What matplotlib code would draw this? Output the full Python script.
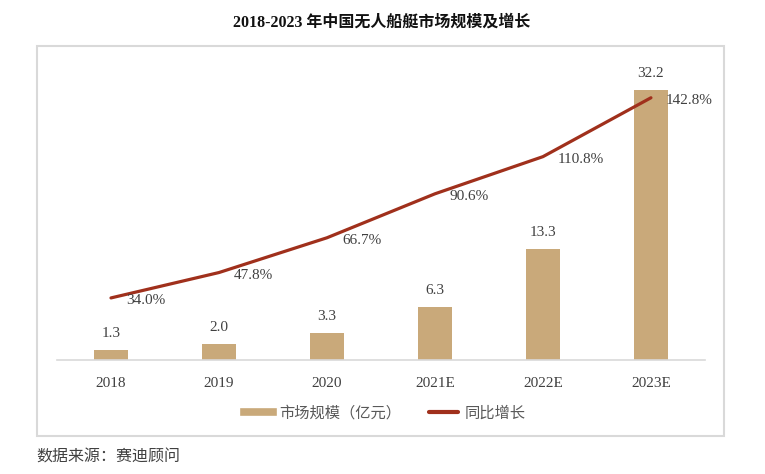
import matplotlib
matplotlib.use('Agg')
from matplotlib import pyplot as plt
from matplotlib.patches import Rectangle
from matplotlib.lines import Line2D
import numpy as np

plt.rcParams['font.family'] = ['Liberation Serif', 'Noto Sans CJK SC']

# data
years = ['2018', '2019', '2020', '2021E', '2022E', '2023E']
market_size = [1.3, 2.0, 3.3, 6.3, 13.3, 32.2]      # 亿元
growth = [34.0, 47.8, 66.7, 90.6, 110.8, 142.8]     # %

bar_color = '#c9a97a'
line_color = '#a0301c'
grey = '#d9d9d9'

fig = plt.figure(figsize=(7.65, 4.74), dpi=100)
ax = fig.add_axes([0.0745, 0.2395, 0.847, 0.621])
ax2 = ax.twinx()

x = np.arange(len(years))
ax.bar(x, market_size, width=0.32, color=bar_color, zorder=2)
for xi, v in zip(x, market_size):
    ax.annotate('%.1f' % v, (xi, v), xytext=(0, 10), textcoords='offset pixels',
                ha='center', va='bottom', fontsize=11, color='#404040')

ax2.plot(x, growth, color=line_color, lw=2.3, solid_capstyle='round', zorder=3)
for xi, g in zip(x, growth):
    ax2.annotate('%.1f%%' % g, (xi, g), xytext=(15, -3), textcoords='offset pixels',
                 ha='left', va='center', fontsize=11, color='#404040')

ax.set_xlim(-0.5, 5.5)
ax.set_ylim(0, 35)
ax2.set_ylim(0, 160)
ax.set_xticks(x)
ax.set_xticklabels(years, fontsize=11, color='#404040')
ax.tick_params(axis='x', length=0, pad=12)
ax.set_yticks([])
ax2.set_yticks([])
for a in (ax, ax2):
    for s in ('top', 'left', 'right'):
        a.spines[s].set_visible(False)
    a.spines['bottom'].set_color(grey)
    a.spines['bottom'].set_linewidth(1.2)
ax2.spines['bottom'].set_visible(False)
ax.set_zorder(ax2.get_zorder() - 1)
ax2.patch.set_visible(False)

# legend
handles = [Line2D([0], [0], color=bar_color, lw=5.5),
           Line2D([0], [0], color=line_color, lw=3, solid_capstyle='round')]
fig.legend(handles, ['市场规模（亿元）', '同比增长'], loc='center',
           bbox_to_anchor=(0.503, 0.129), ncol=2, frameon=False, fontsize=11,
           labelcolor='#595959', handlelength=1.9, handletextpad=0.4,
           columnspacing=1.8)

fig.text(0.4987, 0.953, '2018-2023 年中国无人船艇市场规模及增长', ha='center', va='center',
         fontsize=11.5, fontweight='bold', color='#111111')

fig.patches.append(Rectangle((0.0484, 0.0802), 0.898, 0.8228, transform=fig.transFigure,
                             fill=False, edgecolor=grey, lw=1.5))

fig.text(0.048, 0.034, '数据来源：赛迪顾问', ha='left', va='center', fontsize=11.5,
         color='#404040')

fig.savefig('out.png', dpi=100)
